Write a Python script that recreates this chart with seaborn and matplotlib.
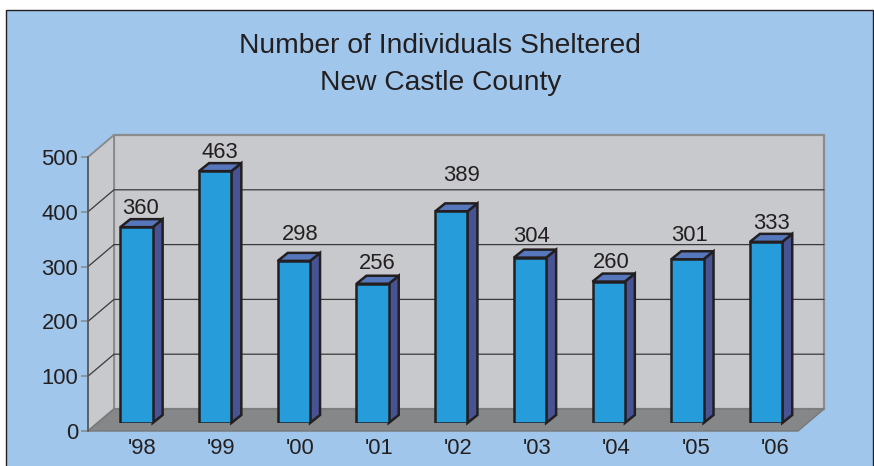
import matplotlib
matplotlib.use('Agg')
import matplotlib.pyplot as plt
from matplotlib.patches import Polygon, Rectangle
import pandas as pd
import seaborn as sns

years = ["'98", "'99", "'00", "'01", "'02", "'03", "'04", "'05", "'06"]
sheltered = [360, 463, 298, 256, 389, 304, 260, 301, 333]
value_ticks = [0, 100, 200, 300, 400, 500]
title_lines = ['Number of Individuals Sheltered', 'New Castle County']

# labels in the original are placed by hand, so each one gets its own nudge (pixels)
label_dx = [4, 5, 6, 5, 10, 2, 3, 2, 5]
label_dy = [19, 19, 26, 20, 36, 21, 19, 24, 18]

W, H = 874, 466
INK = '#231f20'
LABEL_SIZE = 15.8

sns.set_style('white')
plt.rcParams['font.family'] = ['Liberation Sans', 'DejaVu Sans']

fig = plt.figure(figsize=(W / 100, H / 100), dpi=100, facecolor='white')


def px_axes(left, top, right, bottom):
    return fig.add_axes([left / W, 1 - bottom / H, (right - left) / W, (bottom - top) / H])


# background and the fake 3d box, in pixel coordinates
bg = fig.add_axes([0, 0, 1, 1])
bg.set_xlim(0, W)
bg.set_ylim(H, 0)
bg.axis('off')
bg.add_patch(Rectangle((6, 10), 867, 470, fc='#a1c6eb', ec=INK, lw=1.0))

box_l, box_r, box_t, box_b = 88, 798, 157, 431
depth_x, depth_y = 26, 22
wall = '#c8c9cd'
wall_edge = '#8a8c8e'
bg.add_patch(Rectangle((box_l + depth_x, box_t - depth_y), box_r - box_l, box_b - box_t,
                       fc=wall, ec=wall_edge, lw=1.6))
bg.add_patch(Polygon([(box_l, box_t), (box_l + depth_x, box_t - depth_y),
                      (box_l + depth_x, box_b - depth_y), (box_l, box_b)],
                     fc=wall, ec=wall_edge, lw=1.4))
bg.add_patch(Polygon([(box_l, box_b), (box_l + depth_x, box_b - depth_y),
                      (box_r + depth_x, box_b - depth_y), (box_r, box_b)],
                     fc='#868789', ec='#77787a', lw=1.0))

# front plane axes: carries the ticks and tick labels
cat_step = 78.7
tick_step = 79.1
front = px_axes(box_l, box_t, box_r, box_b)
front.patch.set_alpha(0)
front.set_xlim(-(142 - box_l) / tick_step, (box_r - 142) / tick_step)
front.set_ylim(0, 500)
front.set_yticks(value_ticks)
front.set_xticks(range(len(years)))
front.set_xticklabels(years)
front.tick_params(axis='y', length=5, width=1.2, color=wall_edge, pad=2, labelsize=LABEL_SIZE,
                  labelcolor=INK, left=True)
front.tick_params(axis='x', length=0, pad=5, labelsize=LABEL_SIZE, labelcolor=INK)
for side in ['top', 'right', 'bottom']:
    front.spines[side].set_visible(False)
front.spines['left'].set_color('#55575a')
front.spines['left'].set_linewidth(1.2)

# gridlines run along the left wall and then across the back wall
for v in value_ticks[1:-1]:
    y = box_b - (box_b - box_t) * v / 500
    bg.plot([box_l, box_l + depth_x, box_r + depth_x], [y, y - depth_y, y - depth_y],
            color='#3a3a3c', lw=0.9, solid_joinstyle='miter')

# bars sit 8px inside the floor, so they get their own axes shifted from the front plane
bar_base = 423
bar_span = 272
bars = px_axes(box_l, bar_base - bar_span, box_r, bar_base)
bars.patch.set_alpha(0)
df = pd.DataFrame({'year': years, 'sheltered': sheltered})
sns.barplot(data=df, x='year', y='sheltered', order=years, color='#279cdb', saturation=1,
            width=0.41, edgecolor=INK, linewidth=1.8, ax=bars, zorder=3)
x_shift = (136.5 - box_l) / cat_step
bars.set_xlim(-x_shift, (box_r - box_l) / cat_step - x_shift)
bars.set_ylim(0, 500)
bars.axis('off')

# side and top faces of each bar
dx = 10 / cat_step
dy = 8 * 500 / bar_span
half = 0.205
for i, v in enumerate(sheltered):
    r = i + half
    l = i - half
    bars.add_patch(Polygon([(r, 0), (r + dx, dy), (r + dx, v + dy), (r, v)],
                           fc='#475393', ec=INK, lw=1.8, joinstyle='miter', zorder=2, clip_on=False))
    bars.add_patch(Polygon([(l, v), (l + dx, v + dy), (r + dx, v + dy), (r, v)],
                           fc='#5777bd', ec=INK, lw=1.8, joinstyle='miter', zorder=2, clip_on=False))
    bars.annotate(str(v), (i, v), xytext=(label_dx[i] * 0.72, label_dy[i] * 0.72),
                  textcoords='offset points', ha='center', va='center',
                  fontsize=LABEL_SIZE, color=INK, annotation_clip=False)

bg.text(440, 46, title_lines[0], ha='center', va='center', fontsize=20.3, color=INK)
bg.text(441, 83, title_lines[1], ha='center', va='center', fontsize=20.3, color=INK)

fig.savefig('out.png', dpi=100)
